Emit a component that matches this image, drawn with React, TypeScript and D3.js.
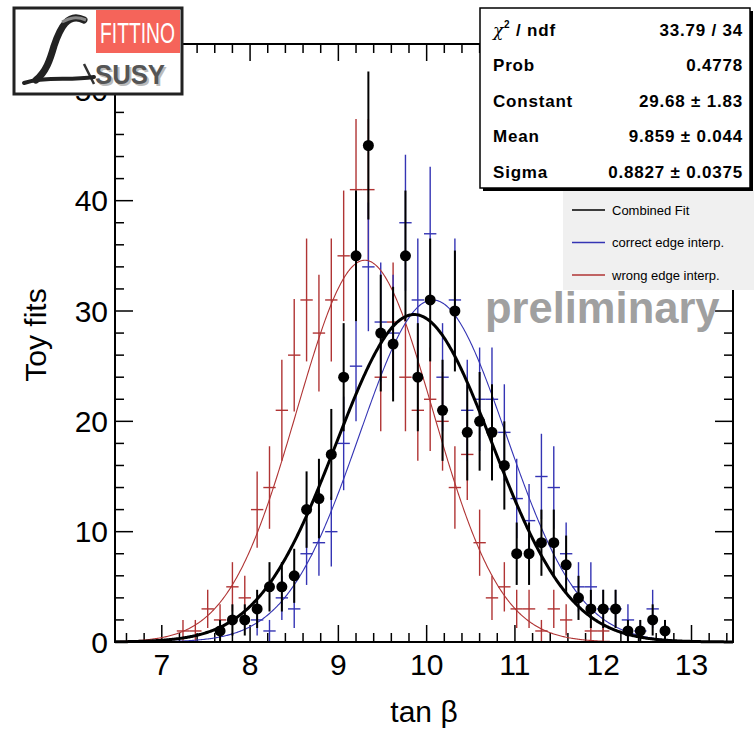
import React from "react";
import * as d3 from "d3";

// ---- data ----
const binStart = 6.47;
const binWidth = 0.14;
const xDomain = [6.47, 13.47];
const yDomain = [0, 54.2];
const xTickValues = [7, 8, 9, 10, 11, 12, 13];
const yTickValues = [0, 10, 20, 30, 40, 50];

const combinedCounts = [
  0, 0, 0, 0, 0, 0, 0, 0, 1, 2, 2, 3, 5, 5, 6, 12, 13, 17, 24, 35, 45, 28, 27, 35, 24,
  31, 21, 30, 19, 20, 19, 16, 8, 8, 9, 9, 7, 4, 3, 3, 3, 1, 1, 2, 1, 0, 0, 0, 0, 0,
];
const correctCounts = [
  0, 0, 0, 0, 0, 0, 0, 0, 0, 0, 0, 2, 1, 4, 3, 8, 9, 10, 18, 25, 34, 29, 28, 38, 31,
  37, 24, 31, 21, 22, 22, 19, 13, 11, 15, 14, 8, 5, 5, 3, 3, 2, 1, 3, 0, 0, 0, 0, 0, 0,
];
const wrongCounts = [
  0, 0, 0, 0, 0, 1, 1, 3, 2, 5, 4, 12, 14, 21, 26, 31, 28, 31, 35, 41, 41, 24, 29, 24, 21,
  22, 20, 14, 17, 9, 4, 5, 3, 3, 1, 3, 2, 0, 1, 1, 0, 0, 0, 0, 0, 0, 0, 0, 0, 0,
];

// Gaussian fit parameters [constant, mean, sigma]
const combinedFit = [29.68, 9.859, 0.8827];
const correctFit = [31.0, 10.07, 0.83];
const wrongFit = [34.6, 9.3, 0.77];

const statsLabels = ["Prob", "Constant", "Mean", "Sigma"];
const statsValues = ["33.79 / 34", "0.4778", "29.68 \u00b1 1.83", "9.859 \u00b1 0.044", "0.8827 \u00b1 0.0375"];
const legendLabels = ["Combined Fit", "correct edge interp.", "wrong edge interp."];

// ---- layout ----
const W = 754;
const H = 731;
const L = 115, R = 733, T = 44, B = 642;
const BLUE = "#3434b4";
const RED = "#b03434";
const FONT = "'Liberation Sans', Arial, Helvetica, sans-serif";

export default function App() {
  const x = d3.scaleLinear().domain(xDomain).range([L, R]);
  const y = d3.scaleLinear().domain(yDomain).range([B, T]);

  const gauss = (p: number[]) => (v: number) => p[0] * Math.exp(-((v - p[1]) ** 2) / (2 * p[2] * p[2]));
  const xs = d3.range(xDomain[0], xDomain[1] + 1e-9, 0.01);
  const line = d3
    .line<number>()
    .x((v) => x(v))
    .curve(d3.curveLinear);
  const curvePath = (p: number[]) => line.y((v) => y(gauss(p)(v)))(xs) || "";

  const xMinor = d3.range(6.6, 13.47, 0.2).map((v) => Math.round(v * 10) / 10).filter((v) => !xTickValues.includes(v));
  const yMinor = d3.range(2, 54, 2).filter((v) => v % 10 !== 0);

  const crosses = (counts: number[], color: string) =>
    counts.map((c, i) => {
      if (c <= 0) return null;
      const lo = binStart + i * binWidth;
      const cx = lo + binWidth / 2;
      const e = Math.sqrt(c);
      return (
        <g key={i} stroke={color} strokeWidth={1.4}>
          <line x1={x(lo)} x2={x(lo + binWidth)} y1={y(c)} y2={y(c)} />
          <line x1={x(cx)} x2={x(cx)} y1={y(c - e)} y2={Math.max(y(c + e), T)} />
        </g>
      );
    });

  const points = combinedCounts.map((c, i) => {
    if (c <= 0) return null;
    const cx = binStart + (i + 0.5) * binWidth;
    const e = Math.sqrt(c);
    return (
      <g key={i}>
        <line x1={x(cx)} x2={x(cx)} y1={y(c - e)} y2={Math.max(y(c + e), T)} stroke="#000" strokeWidth={2} />
        <circle cx={x(cx)} cy={y(c)} r={5.5} fill="#000" />
      </g>
    );
  });

  return (
    <svg width={W} height={H} style={{ position: "absolute", left: 0, top: 0, background: "#fff" }} fontFamily={FONT}>
      <rect x={0} y={0} width={W} height={H} fill="#fff" />
      {/* ticks */}
      <g stroke="#000" strokeWidth={1.5}>
        {xTickValues.map((v) => (
          <g key={"xt" + v}>
            <line x1={x(v)} x2={x(v)} y1={B} y2={B - 17} />
            <line x1={x(v)} x2={x(v)} y1={T} y2={T + 17} />
          </g>
        ))}
        {xMinor.map((v) => (
          <g key={"xm" + v}>
            <line x1={x(v)} x2={x(v)} y1={B} y2={B - 9} />
            <line x1={x(v)} x2={x(v)} y1={T} y2={T + 9} />
          </g>
        ))}
        {yTickValues.map((v) => (
          <g key={"yt" + v}>
            <line x1={L} x2={L + 18} y1={y(v)} y2={y(v)} />
            <line x1={R} x2={R - 18} y1={y(v)} y2={y(v)} />
          </g>
        ))}
        {yMinor.map((v) => (
          <g key={"ym" + v}>
            <line x1={L} x2={L + 9} y1={y(v)} y2={y(v)} />
            <line x1={R} x2={R - 9} y1={y(v)} y2={y(v)} />
          </g>
        ))}
      </g>

      {/* data */}
      <g>{crosses(wrongCounts, RED)}</g>
      <g>{crosses(correctCounts, BLUE)}</g>
      <path d={curvePath(wrongFit)} fill="none" stroke={RED} strokeWidth={1.1} />
      <path d={curvePath(correctFit)} fill="none" stroke={BLUE} strokeWidth={1.1} />
      <g>{points}</g>
      <path d={curvePath(combinedFit)} fill="none" stroke="#000" strokeWidth={3} />

      {/* frame */}
      <rect x={L} y={T} width={R - L} height={B - T} fill="none" stroke="#000" strokeWidth={2} />

      {/* tick labels */}
      <g fontSize={30} fill="#000">
        {xTickValues.map((v) => (
          <text key={"xl" + v} x={x(v)} y={675} textAnchor="middle">
            {v}
          </text>
        ))}
        {yTickValues.map((v) => (
          <text key={"yl" + v} x={108} y={y(v) + 10.5} textAnchor="end">
            {v}
          </text>
        ))}
      </g>
      <text x={424} y={722} fontSize={30} textAnchor="middle">
        tan β
      </text>
      <text transform="translate(46,335) rotate(-90)" fontSize={30} textAnchor="middle">
        Toy fits
      </text>

      {/* preliminary */}
      <text x={485} y={323} fontSize={43.5} fontWeight="bold" fill="#a0a0a0">
        preliminary
      </text>

      {/* legend */}
      <rect x={563} y={190} width={191} height={100} fill="#f0f0f0" />
      {legendLabels.map((lab, i) => {
        const ly = 210 + i * 32.5;
        const col = ["#000", BLUE, RED][i];
        return (
          <g key={lab}>
            <line x1={572} x2={605} y1={ly} y2={ly} stroke={col} strokeWidth={1.3} />
            <text x={612} y={ly + 4.5} fontSize={13}>
              {lab}
            </text>
          </g>
        );
      })}

      {/* stats box */}
      <rect x={483} y={11} width={270} height={180} fill="#000" />
      <rect x={480} y={8} width={270} height={180} fill="#fff" stroke="#000" strokeWidth={1.5} />
      <g fontSize={17} fontWeight="bold" letterSpacing={0.8}>
        <text x={493} y={35.5}>
          <tspan fontFamily="'DejaVu Serif', serif" fontWeight="normal" fontStyle="italic">χ</tspan>
          <tspan fontSize={10} dy={-8}>2</tspan>
          <tspan dy={8}> / ndf</tspan>
        </text>
        {statsLabels.map((s, i) => (
          <text key={s} x={493} y={71 + i * 35.5}>
            {s}
          </text>
        ))}
        {statsValues.map((s, i) => (
          <text key={s} x={743} y={35.5 + i * 35.5} textAnchor="end">
            {s}
          </text>
        ))}
      </g>

      {/* logo */}
      <rect x={14} y={8} width={168} height={86} fill="#fff" stroke="#222" strokeWidth={3} />
      <rect x={96} y={10} width={84} height={43} fill="#f5645a" />
      <text x={100} y={43} fontSize={29} fill="#fff" textLength={75} lengthAdjust="spacingAndGlyphs">
        FITTINO
      </text>
      <text x={97} y={86} fontSize={27} fontWeight="bold" fill="#bbb" textLength={70} lengthAdjust="spacingAndGlyphs">
        SUSY
      </text>
      <text x={95} y={84} fontSize={27} fontWeight="bold" fill="#555" textLength={70} lengthAdjust="spacingAndGlyphs">
        SUSY
      </text>
      <path d="M84 64 L94 84" stroke="#333" strokeWidth={2.5} fill="none" />
      <path d="M84 20 C68 12, 60 28, 54 46 C50 60, 46 72, 36 80" stroke="#222" strokeWidth={7} fill="none" strokeLinecap="round" />
      <path d="M24 83 C46 76, 68 81, 94 77" stroke="#222" strokeWidth={4} fill="none" strokeLinecap="round" />
      <path d="M62 22 C70 18, 76 16, 86 20" stroke="#888" strokeWidth={3} fill="none" />
    </svg>
  );
}
